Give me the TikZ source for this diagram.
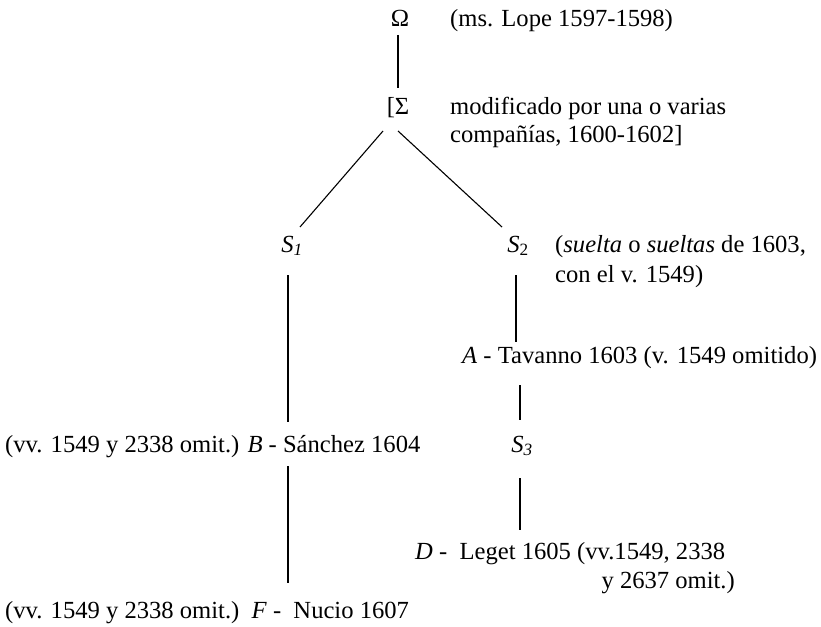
\documentclass[tikz,border=0pt]{standalone}
\usepackage{fontspec}
\setmainfont{Liberation Serif}
\usetikzlibrary{calc}
\begin{document}
\begin{tikzpicture}[x=1pt,y=-1pt,
  txt/.style={inner sep=0pt, font=\fontsize{24.6}{28}\selectfont},
  lbl/.style={txt, anchor=base west},
  sym/.style={txt, anchor=base},
  conn/.style={line width=1.1pt, black}]
\useasboundingbox (0,0) rectangle (821,626);
% nodes
\node[sym] (om) at (400,27) {Ω};
\node[lbl] (omn) at (450,27) {(ms. Lope 1597-1598)};
\node[sym] (sg) at (398,114) {[Σ};
\node[lbl] (sgn1) at (450,114) {modificado por una o varias};
\node[lbl] (sgn2) at (450,142) {compañías, 1600-1602]};
\node[sym] (s1) at (292,252) {\textit{S\textsubscript{1}}};
\node[sym] (s2) at (518,252) {\textit{S}\textsubscript{2}};
\node[lbl] (s2n1) at (555,252) {(\textit{suelta} o \textit{sueltas} de 1603,};
\node[lbl] (s2n2) at (555,282) {con el v. 1549)};
\node[lbl] (a) at (462,363) {\textit{A} - Tavanno 1603 (v. 1549 omitido)};
\node[sym] (s3) at (522,452) {\textit{S\textsubscript{3}}};
\node[lbl] (b) at (5,452) {(vv. 1549 y 2338 omit.) \textit{B} - Sánchez 1604};
\node[lbl] (d) at (415,559) {\textit{D} -\ \ Leget 1605 (vv.1549, 2338};
\node[txt, anchor=base east] (d2) at (735,588) {y 2637 omit.)};
\node[lbl] (f) at (5,618) {(vv. 1549 y 2338 omit.)\ \ \textit{F} -\ \ Nucio 1607};
% connectors
\draw[conn] ($(om.base)+(-2,8)$) -- ($(sg.base)+(0,-26)$);
\draw[conn] ($(sg.base)+(-15,17)$) -- ($(s1.base)+(8,-25)$);
\draw[conn] ($(sg.base)+(0,17)$) -- ($(s2.base)+(-16,-25)$);
\draw[conn] ($(s1.base)+(-4,23)$) -- ($(s1.base |- b.base)+(-4,-30)$);
\draw[conn] ($(s1.base |- b.base)+(-4,14)$) -- ($(s1.base |- f.base)+(-4,-35)$);
\draw[conn] ($(s2.base)+(-2,23)$) -- ($(s2.base |- a.base)+(-2,-21)$);
\draw[conn] ($(s3.base)+(-2,-67)$) -- ($(s3.base)+(-2,-32)$);
\draw[conn] ($(s3.base)+(-2,26)$) -- ($(s3.base)+(-2,78)$);
\end{tikzpicture}
\end{document}
